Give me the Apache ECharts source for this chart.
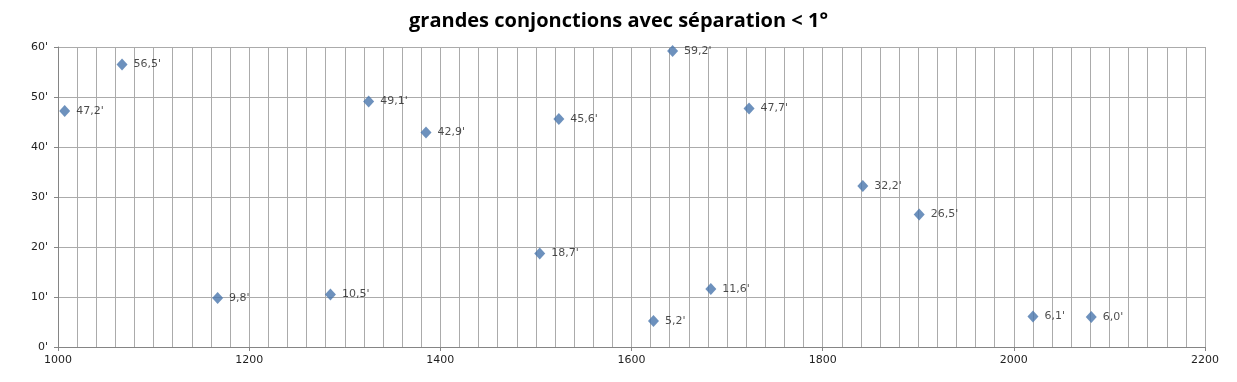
<!DOCTYPE html>
<html>
<head>
<meta charset="utf-8">
<script src="https://cdn.jsdelivr.net/npm/echarts@6/dist/echarts.min.js"></script>
<style>
html,body{margin:0;padding:0;background:#fff;}
#chart{width:1237px;height:382px;}
</style>
</head>
<body>
<div id="chart"></div>
<script>
var title = "grandes conjonctions avec séparation < 1°";
var years = [1007, 1067, 1167, 1285, 1325, 1385, 1504, 1524, 1623, 1643, 1683, 1723, 1842, 1901, 2020, 2081];
var separations = [47.2, 56.5, 9.8, 10.5, 49.1, 42.9, 18.7, 45.6, 5.2, 59.2, 11.6, 47.7, 32.2, 26.5, 6.1, 6.0];
var xTickLabels = ["1000", "1200", "1400", "1600", "1800", "2000", "2200"];
var yTickLabels = ["0'", "10'", "20'", "30'", "40'", "50'", "60'"];

var points = years.map(function (y, i) { return [y, separations[i]]; });

var chart = echarts.init(document.getElementById('chart'), null, {renderer: 'canvas'});
var gridColor = '#ababab';
var axisColor = '#858585';
var labelFont = {fontFamily: 'DejaVu Sans', fontSize: 11, color: '#1e1e1e'};

chart.setOption({
  animation: false,
  backgroundColor: '#ffffff',
  title: {
    text: title,
    left: 'center',
    top: 6,
    textStyle: {fontFamily: 'Open Sans', fontWeight: 'bold', fontSize: 20, color: '#000'}
  },
  grid: {left: 58, right: 32, top: 47, bottom: 35},
  xAxis: [{
    type: 'value', min: 1000, max: 2200, interval: 20,
    axisLine: {show: false},
    axisTick: {show: false},
    axisLabel: {show: false},
    splitLine: {show: true, lineStyle: {color: gridColor, width: 1}}
  }, {
    type: 'value', min: 1000, max: 2200, interval: 200,
    position: 'bottom',
    axisLine: {show: true, lineStyle: {color: axisColor, width: 1}},
    axisTick: {show: true, length: 4, lineStyle: {color: axisColor}},
    axisLabel: Object.assign({margin: 8, formatter: function (v) {
      var i = Math.round((v - 1000) / 200);
      return xTickLabels[i] !== undefined ? xTickLabels[i] : '';
    }}, labelFont),
    splitLine: {show: false}
  }],
  yAxis: {
    type: 'value', min: 0, max: 60, interval: 10,
    axisLine: {show: true, lineStyle: {color: axisColor, width: 1}},
    axisTick: {show: true, length: 4, lineStyle: {color: axisColor}},
    axisLabel: Object.assign({margin: 10, formatter: function (v) {
      var i = Math.round(v / 10);
      return yTickLabels[i] !== undefined ? yTickLabels[i] : '';
    }}, labelFont),
    splitLine: {show: true, lineStyle: {color: gridColor, width: 1}}
  },
  series: [{
    type: 'scatter',
    xAxisIndex: 1,
    data: points,
    symbol: 'diamond',
    symbolSize: [11, 12],
    itemStyle: {color: '#4876ad'},
    label: Object.assign({
      show: true,
      position: 'right',
      distance: 6,
      formatter: function (p) { return p.value[1].toFixed(1).replace('.', ',') + "'"; }
    }, labelFont)
  }]
});
</script>
</body>
</html>
